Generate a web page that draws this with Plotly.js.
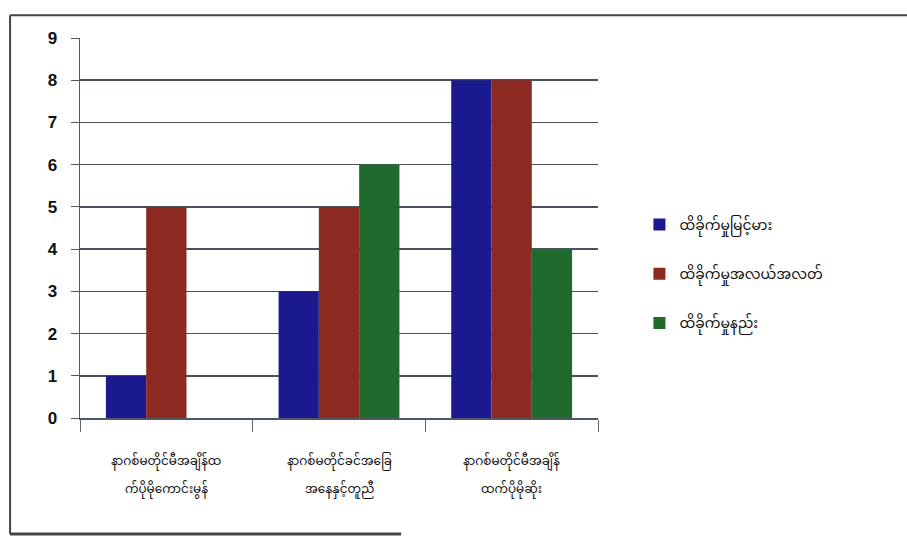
<!DOCTYPE html>
<html>
<head>
<meta charset="utf-8">
<script src="https://cdn.plot.ly/plotly-3.0.1.min.js"></script>
<style>html,body{margin:0;padding:0;background:#fff;}#chart{width:907px;height:540px;}</style>
</head>
<body>
<div id="chart"></div>
<script>
const categories = [
  "နာဂစ်မတိုင်မီအချိန်ထက်ပိုမိုကောင်းမွန်",
  "နာဂစ်မတိုင်ခင်အခြေအနေနှင့်တူညီ",
  "နာဂစ်မတိုင်မီအချိန်ထက်ပိုမိုဆိုး"
];
const categoryLine1 = ["နာဂစ်မတိုင်မီအချိန်ထ", "နာဂစ်မတိုင်ခင်အခြေ", "နာဂစ်မတိုင်မီအချိန်"];
const categoryLine2 = ["က်ပိုမိုကောင်းမွန်", "အနေနှင့်တူညီ", "ထက်ပိုမိုဆိုး"];
const seriesNames = ["ထိခိုက်မှုမြင့်မား", "ထိခိုက်မှုအလယ်အလတ်", "ထိခိုက်မှုနည်း"];
const highValues = [1, 3, 8];
const mediumValues = [5, 5, 8];
const lowValues = [0, 6, 4];
const yTicks = [0, 1, 2, 3, 4, 5, 6, 7, 8, 9];

const colors = ["#1a1a8e", "#8c2a22", "#1f6b2e"];
const vals = [highValues, mediumValues, lowValues];

const myFont = '"Noto Sans Myanmar", "Padauk", "Myanmar Text", "Noto Sans", sans-serif';

const data = vals.map((v, i) => ({
  type: 'bar',
  x: categories,
  y: v,
  name: seriesNames[i],
  legendgroup: 'g' + i,
  marker: {color: colors[i], line: {width: 0}},
  hoverinfo: 'none'
}));

const annotations = [];
categories.forEach((c, i) => {
  annotations.push({x: c, xref: 'x', y: -0.115, yref: 'paper', text: categoryLine1[i], showarrow: false,
    yanchor: 'middle', xanchor: 'center', font: {family: myFont, size: 12, color: '#111'}});
  annotations.push({x: c, xref: 'x', y: -0.19, yref: 'paper', text: categoryLine2[i], showarrow: false,
    yanchor: 'middle', xanchor: 'center', font: {family: myFont, size: 12, color: '#111'}});
});

const layout = {
  width: 907, height: 540,
  margin: {l: 80, r: 309, t: 38, b: 122},
  paper_bgcolor: '#ffffff',
  plot_bgcolor: '#ffffff',
  barmode: 'group',
  bargap: 0.3,
  bargroupgap: 0,
  showlegend: true,
  legend: {
    x: 1.08, y: 0.55, xanchor: 'left', yanchor: 'top',
    traceorder: 'grouped', tracegroupgap: 28,
    font: {family: myFont, size: 14, color: '#111'},
    itemwidth: 30
  },
  xaxis: {
    type: 'category',
    tickson: 'boundaries',
    ticks: 'outside', ticklen: 12, tickcolor: '#666', tickwidth: 1,
    showline: true, linecolor: '#505868', linewidth: 1.5,
    showgrid: false,
    showticklabels: false,
    fixedrange: true
  },
  yaxis: {
    range: [0, 9],
    tickvals: yTicks,
    ticktext: yTicks.map(String),
    ticks: 'outside', ticklen: 8, tickcolor: '#505868',
    showline: true, linecolor: '#505868', linewidth: 1.5,
    showgrid: true, gridcolor: '#4a5060', gridwidth: 1.5,
    zeroline: false,
    tickfont: {family: 'Liberation Sans, Arial, sans-serif', size: 17, color: '#111', weight: 'bold'},
    ticklabelstandoff: 10,
    fixedrange: true
  },
  annotations: annotations,
  shapes: [
    {type: 'line', xref: 'paper', yref: 'paper', x0: -0.135, x1: 1.6, y0: 1.06, y1: 1.06, line: {color: '#444', width: 2}},
    {type: 'line', xref: 'paper', yref: 'paper', x0: -0.135, x1: -0.135, y0: 1.06, y1: -0.305, line: {color: '#444', width: 2}},
    {type: 'line', xref: 'paper', yref: 'paper', x0: -0.135, x1: 0.62, y0: -0.305, y1: -0.305, line: {color: '#444', width: 3}}
  ]
};

Plotly.newPlot('chart', data, layout, {displayModeBar: false, staticPlot: true});
</script>
</body>
</html>
